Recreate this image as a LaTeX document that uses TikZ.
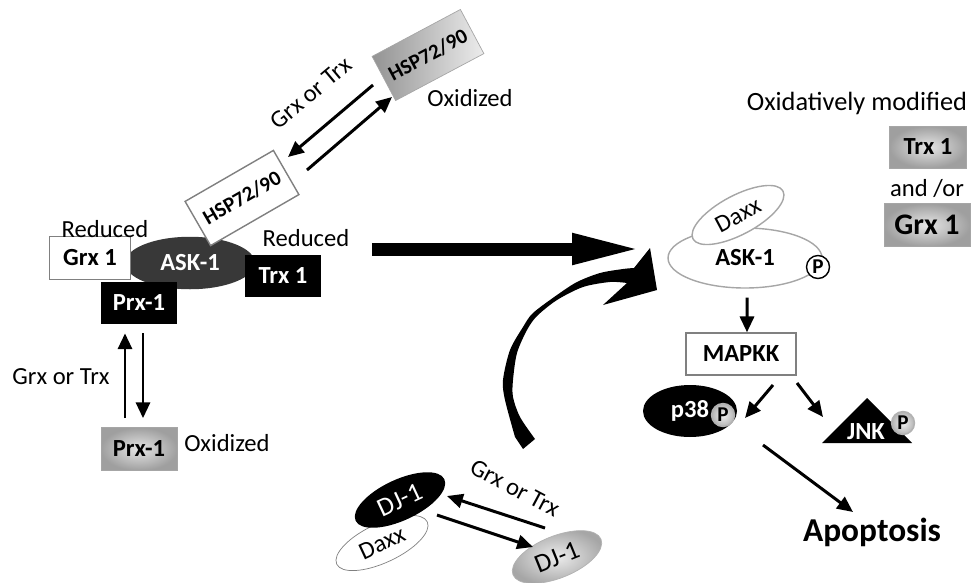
\documentclass[tikz,border=0pt]{standalone}
\usepackage{fontspec}
\setmainfont{Carlito}
\usetikzlibrary{arrows.meta,shapes.geometric}

\tikzset{
  lbl/.style={font=\fontsize{14}{16}\selectfont},
  prot/.style={font=\bfseries\fontsize{14}{16}\selectfont, inner sep=0pt, minimum width=1.54cm, minimum height=0.84cm},
  blackbox/.style={prot, fill=black, text=white},
  whitebox/.style={prot, fill=white, draw=gray, thick},
  graybox/.style={prot, draw=gray!70, inner color=gray!20, outer color=gray!75},
  arr/.style={line width=1.7pt, -{Triangle[length=9pt,width=8pt]}},
  phos/.style={circle, thick, inner sep=0pt, minimum size=0.46cm, font=\bfseries\fontsize{12}{12}\selectfont},
  grayphos/.style={phos, draw=gray!60, inner color=gray!10, outer color=gray!60}
}

\begin{document}
\begin{tikzpicture}[x=0.02cm, y=-0.02cm]
  \useasboundingbox (0,0) rectangle (973,582);

  % reduced complex
  \node[ellipse, fill=black!78, text=white, font=\bfseries\fontsize{14}{16}\selectfont,
        minimum width=2.6cm, minimum height=1.05cm] (ask) at (190,263) {ASK-1};
  \node[whitebox, minimum width=1.62cm, minimum height=0.86cm] (grx) at (90,258) {Grx 1};
  \node[blackbox] (trx) at (283,276) {Trx 1};
  \node[blackbox, minimum width=1.52cm] (prx) at (139,303) {Prx-1};
  \node[whitebox, rotate=30, minimum width=2.04cm, minimum height=1.02cm,
        font=\bfseries\fontsize{12}{14}\selectfont] (hspred) at (242,198) {HSP72/90};
  \node[lbl] (redL) at (105,229) {Reduced};
  \node[lbl] (redR) at (306,238) {Reduced};

  % HSP oxidation
  \node[prot, rotate=28, minimum width=2.0cm, minimum height=1.0cm, draw=gray!70,
        left color=gray!85, right color=gray!15,
        font=\bfseries\fontsize{12}{14}\selectfont] (hspox) at (428,55) {HSP72/90};
  \node[lbl] (oxA) at (470,98) {Oxidized};
  \node[lbl, rotate=40] (gtA) at (311,93) {Grx or Trx};
  \draw[arr] ([shift={(-55,30)}]hspox.center) -- ([shift={(46,-41)}]hspred.center);
  \draw[arr] ([shift={(65,-28)}]hspred.center) -- ([shift={(-36,42)}]hspox.center);

  % Prx oxidation
  \node[graybox, minimum width=1.52cm, minimum height=0.86cm] (prxox) at (139,449) {Prx-1};
  \node[lbl] (oxB) at (227,443) {Oxidized};
  \node[lbl] (gtB) at (61,377) {Grx or Trx};
  \draw[arr, shorten <=0.18cm, shorten >=0.18cm] ([xshift=-0.28cm]prxox.north) -- ([xshift=-0.28cm]prx.south);
  \draw[arr, shorten <=0.18cm, shorten >=0.18cm] ([xshift=0.08cm]prx.south) -- ([xshift=0.08cm]prxox.north);

  % DJ-1
  \node[ellipse, draw=gray, fill=white, rotate=25, minimum width=2.0cm, minimum height=0.76cm,
        lbl] (daxxB) at (382,543) {Daxx};
  \node[ellipse, fill=black, text=white, rotate=25, minimum width=1.96cm, minimum height=0.7cm,
        font=\fontsize{15}{16}\selectfont] (dj) at (400,500) {DJ-1};
  \node[ellipse, draw=gray!60, inner color=gray!15, outer color=gray!70, rotate=22,
        minimum width=1.9cm, minimum height=0.84cm, font=\fontsize{15}{16}\selectfont] (djox) at (557,557) {DJ-1};
  \node[lbl, rotate=-28] (gtC) at (515,488) {Grx or Trx};
  \draw[arr] ([shift={(-12,-29)}]djox.center) -- ([shift={(47,-4)}]dj.center);
  \draw[arr] ([shift={(37,15)}]dj.center) -- ([shift={(-24,-10)}]djox.center);

  % activated ASK-1
  \node[ellipse, draw=gray!70, thick, minimum width=3.08cm, minimum height=1.2cm,
        font=\bfseries\fontsize{14}{16}\selectfont] (ask2) at (745,258) {ASK-1};
  \node[ellipse, draw=gray!70, thick, fill=white, rotate=28, minimum width=2.04cm, minimum height=0.7cm,
        lbl] (daxxA) at (738,215) {Daxx};
  \node[phos, draw=black, fill=white] (pA) at (818,267) {P};

  \node[font=\fontsize{15}{17}\selectfont] (oxmod) at (857,103) {Oxidatively modified};
  \node[graybox] (trxox) at (928,147) {Trx 1};
  \node[lbl] (andor) at (927,188) {and /or};
  \node[graybox, minimum width=1.72cm, minimum height=0.86cm,
        font=\bfseries\fontsize{17}{19}\selectfont] (grxox) at (927,225) {Grx 1};

  % MAPK cascade
  \node[prot, draw=gray, thick, minimum width=2.2cm] (mapkk) at (741,354) {MAPKK};
  \node[ellipse, fill=black, text=white, font=\bfseries\fontsize{14}{16}\selectfont,
        minimum width=1.88cm, minimum height=1.04cm] (p38) at (690,411) {p38};
  \node[grayphos] (pp38) at (723,415) {P};
  \fill (822,443) -- (867,398) -- (912,443) -- cycle;
  \node[text=white, font=\bfseries\fontsize{14}{16}\selectfont] (jnk) at (866,432) {JNK};
  \node[grayphos] (pjnk) at (903,423) {P};
  \node[font=\bfseries\fontsize{19}{22}\selectfont] (apop) at (872,532) {Apoptosis};

  \draw[arr] ([shift={(2,9)}]ask2.south) -- ([xshift=0.12cm]mapkk.north);
  \draw[arr] ([shift={(32,31)}]mapkk.center) -- ([shift={(55,7)}]p38.center);
  \draw[arr] ([shift={(56,29)}]mapkk.center) -- ([shift={(-43,-15)}]jnk.center);
  \draw[arr] ([shift={(73,34)}]p38.center) -- ([shift={(-19,-20)}]apop.center);

  % big arrows
  \draw[line width=7.4pt, -{Triangle[length=40pt,width=16pt]}]
    ([shift={(50,-27)}]trx.east) -- ([shift={(-25,-9)}]ask2.west);
  \fill (523,449)
    -- plot[smooth] coordinates {(515,437) (505,400) (503,380) (510,350) (523,327) (533,313) (557,295) (577,282) (600,273) (623,269) (634,268)}
    -- (650,248) -- (657,290) -- (603,305) -- (627,283)
    -- plot[smooth] coordinates {(627,283) (610,282) (583,287) (557,300) (537,316) (527,330) (517,353) (513,380) (513,397) (520,417) (535,439)}
    -- cycle;
\end{tikzpicture}
\end{document}
